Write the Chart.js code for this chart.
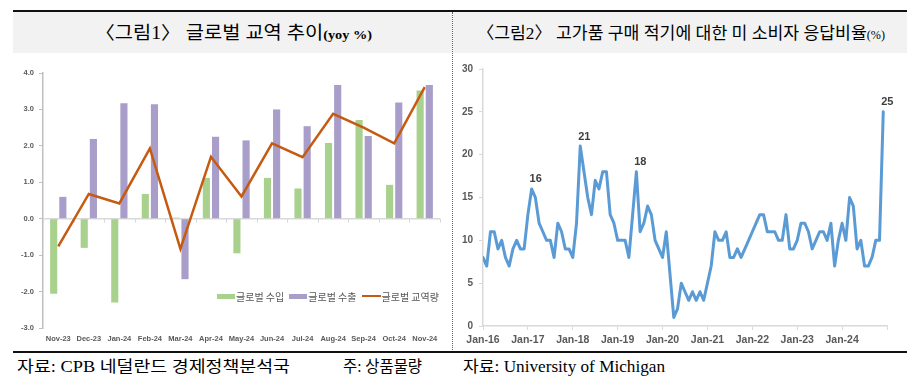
<!DOCTYPE html>
<html><head><meta charset="utf-8">
<script src="https://cdn.jsdelivr.net/npm/chart.js@4.4.1/dist/chart.umd.min.js"></script>
<style>
html,body{margin:0;padding:0;background:#fff;}
#wrap{position:relative;width:923px;height:389px;overflow:hidden;font-family:"Liberation Serif","Noto Sans CJK KR",serif;color:#000;}
.abs{position:absolute;}
.band{background:#f2f2f2;}
.fit{white-space:nowrap;transform-origin:0 50%;line-height:1;}
.lg{position:absolute;left:217px;top:289px;height:14px;display:flex;align-items:center;font-family:"Noto Sans CJK KR",sans-serif;font-size:10px;color:#595959;white-space:nowrap;}
.lg .sw{width:18px;height:5px;margin-right:1px;}
.lg .ln{width:19px;height:2px;margin-right:1px;}
.lg span.t{margin-right:5px;}
</style></head><body>
<div id="wrap">
  <div class="abs" style="left:13px;top:10px;width:894px;height:2px;background:#111"></div>
  <div class="abs band" style="left:13px;top:12px;width:439px;height:41px"></div>
  <div class="abs band" style="left:453px;top:12px;width:454px;height:41px"></div>
  <div class="abs" style="left:452px;top:12px;height:340px;border-left:1px dotted #666"></div>
  <div class="abs" style="left:13px;top:351px;width:894px;height:2px;background:#111"></div>

  <div class="abs fit" data-w="277" style="left:95px;top:24px;font-size:18px">〈그림1〉 글로벌 교역 추이<span style="font-size:13px;font-weight:bold">(yoy %)</span></div>
  <div class="abs fit" data-w="408" style="left:477px;top:24.5px;font-size:17px">〈그림2〉 고가품 구매 적기에 대한 미 소비자 응답비율<span style="font-size:12px">(%)</span></div>

  <canvas id="c1" class="abs" width="439" height="295" style="left:13px;top:55px"></canvas>
  <canvas id="c2" class="abs" width="454" height="295" style="left:453px;top:55px"></canvas>

  <div class="lg">
    <div class="sw" style="background:#a9d18e"></div><span class="t">글로벌 수입</span>
    <div class="sw" style="background:#a99dca"></div><span class="t">글로벌 수출</span>
    <div class="ln" style="background:#c55a11"></div><span class="t">글로벌 교역량</span>
  </div>

  <div class="abs fit" data-w="273" style="left:17px;top:359px;font-size:16px">자료: CPB 네덜란드 경제정책분석국</div>
  <div class="abs fit" data-w="79" style="left:343px;top:359px;font-size:16px">주: 상품물량</div>
  <div class="abs fit" data-w="202" style="left:463px;top:359px;font-size:16px">자료: University of Michigan</div>
</div>
<script>
// ---- Chart 1 data: global trade (yoy %) ----
const tradeMonths = ['Nov-23','Dec-23','Jan-24','Feb-24','Mar-24','Apr-24','May-24','Jun-24','Jul-24','Aug-24','Sep-24','Oct-24','Nov-24'];
const globalImports = [-2.06,-0.80,-2.30,0.68,0.03,1.12,-0.95,1.12,0.83,2.08,2.71,0.93,3.52];
const globalExports = [0.60,2.19,3.17,3.14,-1.66,2.25,2.15,3.00,2.54,3.67,2.27,3.19,3.67];
const globalTrade = [-0.76,0.68,0.42,1.93,-0.83,1.70,0.61,2.07,1.69,2.88,2.50,2.07,3.61];
const tradeSeriesNames = ['글로벌 수입','글로벌 수출','글로벌 교역량'];

// ---- Chart 2 data: share of US consumers saying "good time to buy" (monthly, Jan-16 .. Dec-24) ----
const yearTickLabels = ['Jan-16','Jan-17','Jan-18','Jan-19','Jan-20','Jan-21','Jan-22','Jan-23','Jan-24',''];
const goodTimeToBuyShare = [
  8,7,11,11,9,10,8,7,9,10,9,9,        // 2016
  13,16,15,12,11,10,10,8,12,11,9,9,   // 2017
  8,12,21,18,15,13,17,16,18,18,13,12, // 2018
  10,10,10,8,13,18,11,12,14,13,10,9,  // 2019
  8,11,6,1,2,5,4,3,4,3,4,3,           // 2020
  5,7,11,10,10,11,8,8,9,8,9,10,       // 2021
  11,12,13,13,11,11,11,10,10,13,9,9,  // 2022
  10,12,12,11,9,10,11,11,10,12,7,10,  // 2023
  12,10,15,14,9,10,7,7,8,10,10,25     // 2024
];
const labeledMonths = [13,26,41,107];

const axisFont = {family:'"Liberation Sans", Arial, sans-serif', weight:'bold'};

const zeroLinePlugin = {
  id:'zeroLine',
  beforeDatasetsDraw(chart){
    const x = chart.scales.x, y = chart.scales.y, ctx = chart.ctx;
    const y0 = y.getPixelForValue(0);
    ctx.save();
    ctx.strokeStyle = '#d9d9d9'; ctx.lineWidth = 1.5;
    ctx.beginPath(); ctx.moveTo(chart.chartArea.left, y0); ctx.lineTo(chart.chartArea.right, y0); ctx.stroke();
    const n = chart.data.labels.length;
    const half = (x.getPixelForValue(1) - x.getPixelForValue(0)) / 2;
    ctx.lineWidth = 1;
    for (let i = 0; i <= n; i++) {
      const px = Math.round((i < n ? x.getPixelForValue(i) - half : x.getPixelForValue(n-1) + half)) + 0.5;
      ctx.beginPath(); ctx.moveTo(px, y0); ctx.lineTo(px, y0 + 4); ctx.stroke();
    }
    ctx.restore();
  }
};

new Chart(document.getElementById('c1'), {
  type:'bar',
  data:{
    labels: tradeMonths,
    datasets:[
      {type:'line', label:tradeSeriesNames[2], data:globalTrade, borderColor:'#c55a11', backgroundColor:'#c55a11', borderWidth:2.5, pointRadius:0, tension:0, order:0},
      {label:tradeSeriesNames[0], data:globalImports, backgroundColor:'#a9d18e', barPercentage:0.78, categoryPercentage:0.6, order:1},
      {label:tradeSeriesNames[1], data:globalExports, backgroundColor:'#a99dca', barPercentage:0.78, categoryPercentage:0.6, order:1}
    ]
  },
  options:{
    responsive:false, animation:false, devicePixelRatio:1,
    layout:{padding:{top:18,right:12,left:0,bottom:0}},
    plugins:{legend:{display:false}, tooltip:{enabled:false}},
    scales:{
      x:{
        grid:{display:false, drawTicks:false}, border:{display:false},
        ticks:{font:{...axisFont, size:7.5}, color:'#595959', padding:6, maxRotation:0, autoSkip:false},
        afterFit(s){ s.height = 22; }
      },
      y:{
        min:-3, max:4,
        ticks:{stepSize:1, callback:v=>Number(v).toFixed(1), font:{...axisFont, size:7.5}, color:'#595959', padding:5},
        grid:{display:true, drawOnChartArea:false, drawTicks:true, tickLength:4, color:'#bfbfbf'},
        border:{display:true, color:'#bfbfbf', width:1.5},
        afterFit(s){ s.width = 30; }
      }
    }
  },
  plugins:[zeroLinePlugin]
});

const pointLabelPlugin = {
  id:'pointLabels',
  afterDatasetsDraw(chart){
    const meta = chart.getDatasetMeta(0), ctx = chart.ctx;
    ctx.save();
    ctx.font = 'bold 11px "Liberation Sans", Arial, sans-serif';
    ctx.fillStyle = '#404040'; ctx.textAlign = 'center'; ctx.textBaseline = 'bottom';
    labeledMonths.forEach(i => {
      const p = meta.data[i];
      ctx.fillText(String(goodTimeToBuyShare[i]), p.x + 4, p.y - 4);
    });
    ctx.restore();
  }
};

new Chart(document.getElementById('c2'), {
  type:'line',
  data:{
    datasets:[{
      label:'응답비율',
      data: goodTimeToBuyShare.map((v,i)=>({x:i, y:v})),
      borderColor:'#5b9bd5', borderWidth:3, pointRadius:0, tension:0,
      borderJoinStyle:'round', borderCapStyle:'round', fill:false
    }]
  },
  options:{
    responsive:false, animation:false, devicePixelRatio:1,
    layout:{padding:{top:14,right:20,left:0,bottom:0}},
    plugins:{legend:{display:false}, tooltip:{enabled:false}},
    scales:{
      x:{
        type:'linear', min:0, max:108,
        ticks:{stepSize:12, autoSkip:false, maxRotation:0, font:{...axisFont, size:10.5}, color:'#595959', padding:4,
          callback:v=> (v % 12 === 0 ? yearTickLabels[v/12] : null)},
        grid:{display:true, drawOnChartArea:false, drawTicks:true, tickLength:4, color:'#d9d9d9'},
        border:{display:true, color:'#d9d9d9', width:1.5},
        afterFit(s){ s.height = 24; }
      },
      y:{
        min:0, max:30,
        ticks:{stepSize:5, font:{...axisFont, size:10}, color:'#595959', padding:6},
        grid:{display:true, drawOnChartArea:false, drawTicks:true, tickLength:4, color:'#d9d9d9'},
        border:{display:true, color:'#d9d9d9', width:1.5},
        afterFit(s){ s.width = 30; }
      }
    }
  },
  plugins:[pointLabelPlugin]
});

document.querySelectorAll('.fit').forEach(el=>{
  const w = el.getBoundingClientRect().width;
  const t = +el.dataset.w;
  if (w > 0) el.style.transform = 'scaleX(' + (t/w) + ')';
});
</script>
</body></html>
